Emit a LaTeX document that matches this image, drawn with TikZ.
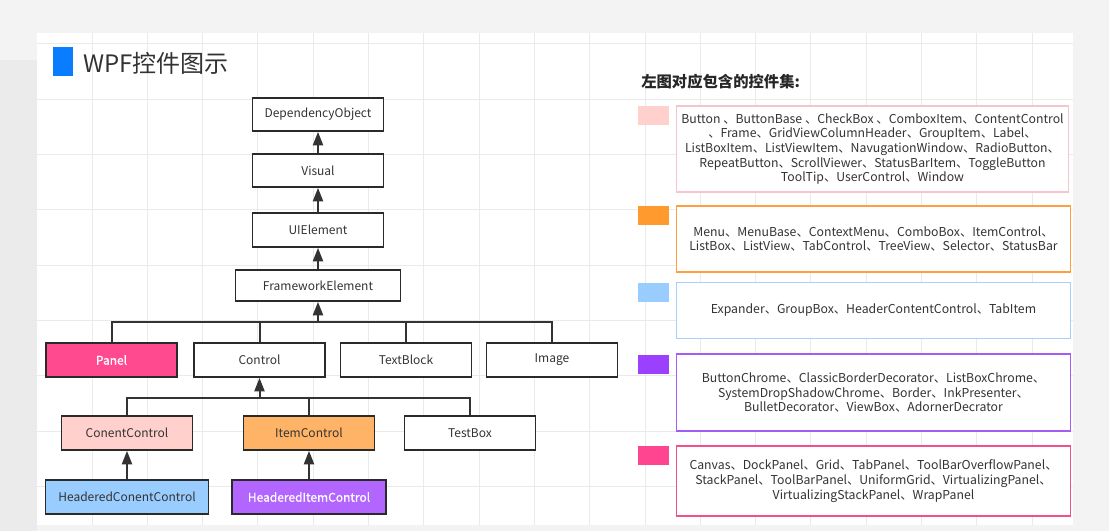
\documentclass[tikz,border=0pt]{standalone}
\usepackage{fontspec}
\setmainfont{Noto Sans CJK SC}
\newfontfamily\semibold[FakeBold=0.9]{Noto Sans CJK SC}
\usetikzlibrary{arrows.meta}
\definecolor{ink}{HTML}{333333}
\definecolor{edge}{HTML}{2A2A2A}
\definecolor{bgout}{HTML}{F3F3F3}
\definecolor{bgleft}{HTML}{EBEBEB}
\definecolor{gridc}{HTML}{EAEAEA}
\definecolor{titleblue}{HTML}{0A7DFF}
\definecolor{cPanel}{HTML}{FF4A8F}
\definecolor{cConent}{HTML}{FFD0CC}
\definecolor{cItem}{HTML}{FFB366}
\definecolor{cHC}{HTML}{99CCFF}
\definecolor{cHI}{HTML}{B266FF}
\definecolor{sOne}{HTML}{FFD0CC}
\definecolor{sTwo}{HTML}{FF9A2E}
\definecolor{sThree}{HTML}{99CCFF}
\definecolor{sFour}{HTML}{9B40FF}
\definecolor{sFive}{HTML}{FF4590}
\definecolor{bOne}{HTML}{F6C4CC}
\definecolor{bTwo}{HTML}{FFA040}
\definecolor{bThree}{HTML}{A8D0FF}
\definecolor{bFour}{HTML}{A35CF5}
\definecolor{bFive}{HTML}{F0508C}
\begin{document}
\begin{tikzpicture}[x=0.75pt,y=-0.75pt,
  wh/.style 2 args={minimum width=#1*0.75pt, minimum height=#2*0.75pt},
  box/.style={draw=edge, line width=1.4pt, fill=white, inner sep=0pt, text=ink,
    font=\fontsize{9}{11}\selectfont},
  wbox/.style={box, text=white, font=\fontsize{9}{11}\selectfont\semibold},
  conn/.style={draw=ink, line width=1.5pt},
  arr/.style={conn, -{Triangle[length=10pt,width=7.5pt]}},
  swatch/.style={draw=none, inner sep=0pt},
  lbox/.style={line width=1.4pt, fill=white, inner sep=0pt, text=ink, align=center,
    font=\fontsize{9.2}{11}\selectfont},
  gridline/.style={draw=gridc, line width=0.75pt}
]
\useasboundingbox (0,0) rectangle (1109,531);
% background
\fill[bgout] (0,0) rectangle (1109,531);
\fill[bgleft] (0,60) rectangle (37,531);
\fill[white] (37,33) rectangle (1073,525);
\foreach \i in {0,...,17} \draw[gridline] ({92+55.3*\i},33) -- ({92+55.3*\i},525);
\foreach \j in {0,...,8} \draw[gridline] (37,{44+55.3*\j}) -- (1073,{44+55.3*\j});

% title
\node[swatch, fill=titleblue, wh={20}{29}] (bar) at (63,61.5) {};
\node[anchor=west, inner sep=0pt, text=ink, font=\fontsize{18}{22}\selectfont] (title) at (83,63) {WPF控件图示};

% hierarchy
\node[box, wh={131}{33}] (dep) at (318,114.5) {DependencyObject};
\node[box, wh={131}{33}] (vis) at (318,170.5) {Visual};
\node[box, wh={131}{34}] (uie) at (318,230) {UIElement};
\node[box, wh={165}{31}] (fe) at (318,285.5) {FrameworkElement};

\node[wbox, fill=cPanel, wh={131}{34}] (panel) at (111.5,360) {Panel};
\node[box, wh={131}{34}] (control) at (259.5,360) {Control};
\node[box, wh={131}{34}] (textblock) at (406,360) {TextBlock};
\node[box, wh={131}{34}] (image) at (552,360) {Image};

\node[box, fill=cConent, wh={131}{34}] (conent) at (127,433) {ConentControl};
\node[box, fill=cItem, wh={131}{34}] (item) at (309,433) {ItemControl};
\node[box, wh={131}{34}] (testbox) at (470,433) {TestBox};

\node[box, fill=cHC, wh={163}{34}] (hconent) at (127,497) {HeaderedConentControl};
\node[wbox, fill=cHI, wh={154}{34}] (hitem) at (309,497) {HeaderedItemControl};

\draw[arr] (vis.north) -- (dep.south);
\draw[arr] (uie.north) -- (vis.south);
\draw[arr] (fe.north) -- (uie.south);

\coordinate (busA) at (318,322);
\draw[arr] (busA) -- (fe.south);
\draw[conn] (panel.north) |- (busA) -| (image.north);
\draw[conn] (control.north) -- (control.north |- busA);
\draw[conn] (textblock.north) -- (textblock.north |- busA);

\coordinate (busB) at (259.5,398);
\draw[arr] (busB) -- (control.south);
\draw[conn] (conent.north) |- (busB) -| (testbox.north);
\draw[conn] (item.north) -- (item.north |- busB);

\draw[arr] (hconent.north) -- (conent.south);
\draw[arr] (hitem.north) -- (item.south);

% legend
\node[anchor=west, inner sep=0pt, text=black!85, font=\fontsize{11.5}{14}\selectfont\bfseries] (hdr) at (641,82) {左图对应包含的控件集:};

\node[swatch, fill=sOne, wh={31}{19}] (sw1) at (653.5,115.5) {};
\node[lbox, draw=bOne, wh={392}{86}] (l1) at (872.5,149)
  {Button 、ButtonBase 、CheckBox 、ComboxItem、ContentControl\\
   、Frame、GridViewColumnHeader、GroupItem、Label、\\
   ListBoxItem、ListViewItem、NavugationWindow、RadioButton、\\
   RepeatButton、ScrollViewer、StatusBarItem、ToggleButton\\
   ToolTip、UserControl、Window};

\node[swatch, fill=sTwo, wh={31}{19}] (sw2) at (653.5,215.5) {};
\node[lbox, draw=bTwo, wh={394}{66}] (l2) at (873.5,239)
  {Menu、MenuBase、ContextMenu、ComboBox、ItemControl、\\
   ListBox、ListView、TabControl、TreeView、Selector、StatusBar};

\node[swatch, fill=sThree, wh={31}{19}] (sw3) at (653.5,292) {};
\node[lbox, draw=bThree, wh={394}{56}] (l3) at (873.5,310.5)
  {Expander、GroupBox、HeaderContentControl、TabItem};

\node[swatch, fill=sFour, wh={31}{19}] (sw4) at (653.5,364) {};
\node[lbox, draw=bFour, wh={394}{77}] (l4) at (873.5,392.5)
  {ButtonChrome、ClassicBorderDecorator、ListBoxChrome、\\
   SystemDropShadowChrome、Border、InkPresenter、\\
   BulletDecorator、ViewBox、AdornerDecrator};

\node[swatch, fill=sFive, wh={31}{19}] (sw5) at (653.5,455.5) {};
\node[lbox, draw=bFive, wh={394}{70}] (l5) at (873.5,481)
  {Canvas、DockPanel、Grid、TabPanel、ToolBarOverflowPanel、\\
   StackPanel、ToolBarPanel、UniformGrid、VirtualizingPanel、\\
   VirtualizingStackPanel、WrapPanel};
\end{tikzpicture}
\end{document}
